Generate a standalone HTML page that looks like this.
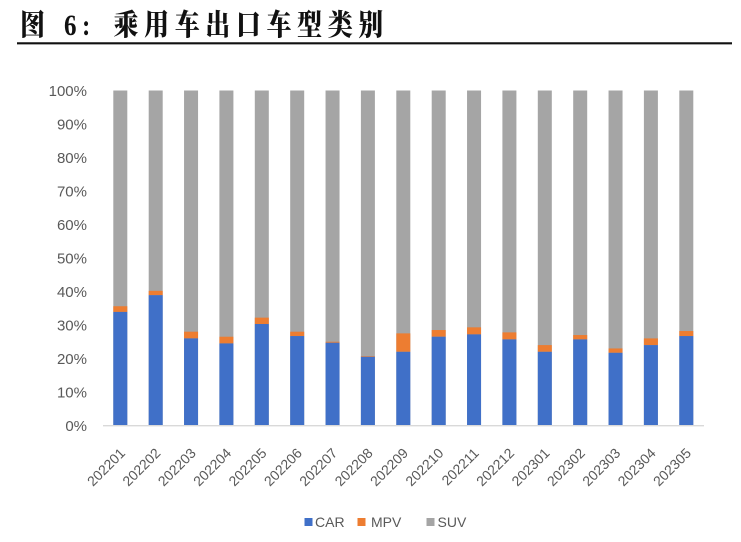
<!DOCTYPE html>
<html>
<head>
<meta charset="utf-8">
<style>
html,body{margin:0;padding:0;background:#fff;}
svg{display:block;}
</style>
</head>
<body>
<svg width="741" height="542" viewBox="0 0 741 542" xmlns="http://www.w3.org/2000/svg">
<rect x="0" y="0" width="741" height="542" fill="#ffffff"/>
<!-- Title -->
<g transform="translate(0,35) scale(1,1.18)" fill="#111">
  <text x="32.5" y="0" text-anchor="middle" font-family="'Noto Serif CJK SC','Noto Sans CJK SC',serif" font-weight="900" font-size="25">图</text>
  <text x="64" y="0" font-family="'Liberation Serif',serif" font-weight="bold" font-size="25">6</text>
  <text x="82" y="0" font-family="'Liberation Serif',serif" font-weight="bold" font-size="25">:</text>
  <g font-family="'Noto Serif CJK SC','Noto Sans CJK SC',serif" font-weight="900" font-size="25" text-anchor="middle">
    <text x="126" y="0">乘</text>
    <text x="156.6" y="0">用</text>
    <text x="187.2" y="0">车</text>
    <text x="217.8" y="0">出</text>
    <text x="248.4" y="0">口</text>
    <text x="279" y="0">车</text>
    <text x="309.6" y="0">型</text>
    <text x="340.2" y="0">类</text>
    <text x="370.8" y="0">别</text>
  </g>
</g>
<line x1="17" y1="43.3" x2="732" y2="43.3" stroke="#111" stroke-width="2.2"/>

<!-- Y axis labels -->
<g font-family="'Liberation Sans',sans-serif" font-size="15" fill="#595959" text-anchor="end">
  <text x="87" y="96">100%</text>
  <text x="87" y="129.5">90%</text>
  <text x="87" y="163">80%</text>
  <text x="87" y="196.5">70%</text>
  <text x="87" y="230">60%</text>
  <text x="87" y="263.5">50%</text>
  <text x="87" y="297">40%</text>
  <text x="87" y="330.5">30%</text>
  <text x="87" y="364">20%</text>
  <text x="87" y="397.5">10%</text>
  <text x="87" y="431">0%</text>
</g>

<!-- Gray SUV bars (full) -->
<g fill="#a5a5a5">
  <rect x="113.3" y="90.5" width="14" height="335"/>
  <rect x="148.7" y="90.5" width="14" height="335"/>
  <rect x="184.05" y="90.5" width="14" height="335"/>
  <rect x="219.4" y="90.5" width="14" height="335"/>
  <rect x="254.8" y="90.5" width="14" height="335"/>
  <rect x="290.2" y="90.5" width="14" height="335"/>
  <rect x="325.55" y="90.5" width="14" height="335"/>
  <rect x="360.9" y="90.5" width="14" height="335"/>
  <rect x="396.3" y="90.5" width="14" height="335"/>
  <rect x="431.7" y="90.5" width="14" height="335"/>
  <rect x="467.05" y="90.5" width="14" height="335"/>
  <rect x="502.4" y="90.5" width="14" height="335"/>
  <rect x="537.8" y="90.5" width="14" height="335"/>
  <rect x="573.2" y="90.5" width="14" height="335"/>
  <rect x="608.55" y="90.5" width="14" height="335"/>
  <rect x="643.9" y="90.5" width="14" height="335"/>
  <rect x="679.3" y="90.5" width="14" height="335"/>
</g>
<!-- Orange MPV -->
<g fill="#ed7d31">
  <rect x="113.3" y="306.24" width="14" height="5.69"/>
  <rect x="148.7" y="290.83" width="14" height="4.35"/>
  <rect x="184.05" y="331.7" width="14" height="6.7"/>
  <rect x="219.4" y="336.72" width="14" height="6.7"/>
  <rect x="254.8" y="317.63" width="14" height="6.37"/>
  <rect x="290.2" y="331.7" width="14" height="4.35"/>
  <rect x="325.55" y="341.75" width="14" height="1"/>
  <rect x="360.9" y="356.15" width="14" height="0.67"/>
  <rect x="396.3" y="333.37" width="14" height="18.43"/>
  <rect x="431.7" y="330.02" width="14" height="6.7"/>
  <rect x="467.05" y="327.34" width="14" height="7.04"/>
  <rect x="502.4" y="332.37" width="14" height="7.03"/>
  <rect x="537.8" y="345.1" width="14" height="6.7"/>
  <rect x="573.2" y="335.05" width="14" height="4.35"/>
  <rect x="608.55" y="348.45" width="14" height="4.35"/>
  <rect x="643.9" y="338.4" width="14" height="6.7"/>
  <rect x="679.3" y="331.03" width="14" height="5.02"/>
</g>
<!-- Blue CAR -->
<g fill="#4070c8">
  <rect x="113.3" y="311.93" width="14" height="113.57"/>
  <rect x="148.7" y="295.18" width="14" height="130.32"/>
  <rect x="184.05" y="338.4" width="14" height="87.1"/>
  <rect x="219.4" y="343.42" width="14" height="82.08"/>
  <rect x="254.8" y="324.0" width="14" height="101.5"/>
  <rect x="290.2" y="336.05" width="14" height="89.45"/>
  <rect x="325.55" y="342.75" width="14" height="82.75"/>
  <rect x="360.9" y="356.82" width="14" height="68.68"/>
  <rect x="396.3" y="351.8" width="14" height="73.7"/>
  <rect x="431.7" y="336.72" width="14" height="88.78"/>
  <rect x="467.05" y="334.38" width="14" height="91.12"/>
  <rect x="502.4" y="339.4" width="14" height="86.1"/>
  <rect x="537.8" y="351.8" width="14" height="73.7"/>
  <rect x="573.2" y="339.4" width="14" height="86.1"/>
  <rect x="608.55" y="352.8" width="14" height="72.7"/>
  <rect x="643.9" y="345.1" width="14" height="80.4"/>
  <rect x="679.3" y="336.05" width="14" height="89.45"/>
</g>

<!-- X axis line -->
<line x1="103" y1="425.7" x2="704" y2="425.7" stroke="#d9d9d9" stroke-width="1.3"/>

<!-- X labels -->
<g font-family="'Liberation Sans',sans-serif" font-size="14" fill="#595959" text-anchor="end">
  <text transform="translate(126,454) rotate(-45)">202201</text>
  <text transform="translate(161.4,454) rotate(-45)">202202</text>
  <text transform="translate(196.75,454) rotate(-45)">202203</text>
  <text transform="translate(232.1,454) rotate(-45)">202204</text>
  <text transform="translate(267.5,454) rotate(-45)">202205</text>
  <text transform="translate(302.9,454) rotate(-45)">202206</text>
  <text transform="translate(338.25,454) rotate(-45)">202207</text>
  <text transform="translate(373.6,454) rotate(-45)">202208</text>
  <text transform="translate(409,454) rotate(-45)">202209</text>
  <text transform="translate(444.4,454) rotate(-45)">202210</text>
  <text transform="translate(479.75,454) rotate(-45)">202211</text>
  <text transform="translate(515.1,454) rotate(-45)">202212</text>
  <text transform="translate(550.5,454) rotate(-45)">202301</text>
  <text transform="translate(585.9,454) rotate(-45)">202302</text>
  <text transform="translate(621.25,454) rotate(-45)">202303</text>
  <text transform="translate(656.6,454) rotate(-45)">202304</text>
  <text transform="translate(692,454) rotate(-45)">202305</text>
</g>

<!-- Legend -->
<g font-family="'Liberation Sans',sans-serif" font-size="14" fill="#595959">
  <rect x="304.5" y="518" width="8" height="8" fill="#4070c8"/>
  <text x="315" y="527">CAR</text>
  <rect x="357.5" y="518" width="8" height="8" fill="#ed7d31"/>
  <text x="371" y="527">MPV</text>
  <rect x="426.5" y="518" width="8" height="8" fill="#a5a5a5"/>
  <text x="437.5" y="527">SUV</text>
</g>
</svg>
</body>
</html>
